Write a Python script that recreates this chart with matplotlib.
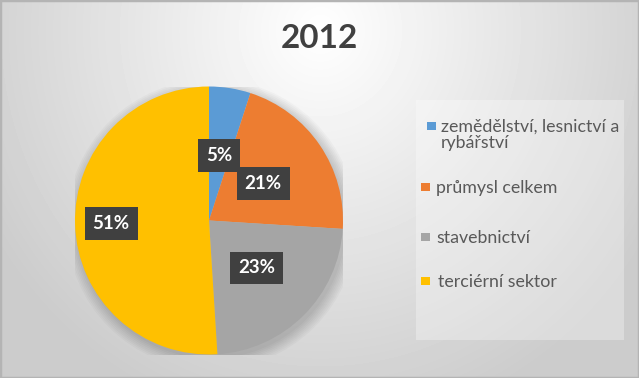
import numpy as np
import matplotlib
matplotlib.use('Agg')
import matplotlib.pyplot as plt
from matplotlib.patches import Rectangle, Circle

# data
categories = ['zemědělství, lesnictví a\nrybářství', 'průmysl celkem',
              'stavebnictví', 'terciérní sektor']
shares = [5, 21, 23, 51]
colours = ['#5B9BD5', '#ED7D31', '#A5A5A5', '#FFC000']
label_dist = [0.49, 0.49, 0.5, 0.73]
title = '2012'

plt.rcParams['font.family'] = ['Lato', 'DejaVu Sans']

W, H = 639, 378
fig = plt.figure(figsize=(W / 100, H / 100), dpi=100)


def fx(px):
    return px / W


def fy(py):
    return 1 - py / H


# radial grey background
bg = fig.add_axes([0, 0, 1, 1], zorder=0)
yy, xx = np.mgrid[0:H, 0:W]
r = np.sqrt(((xx - 320) / 380.0) ** 2 + ((yy - 30) / 400.0) ** 2)
shade = 1 - 0.2 * np.clip(r, 0, 1)
bg.imshow(shade, cmap='gray', vmin=0, vmax=1, aspect='auto')
bg.axis('off')
fig.patches.append(Rectangle((0, 0), 1, 1, transform=fig.transFigure,
                             fill=False, ec='#b4b4b4', lw=2.5, zorder=5))

# pie
cx, cy, rad = 209, 220.5, 134
ax = fig.add_axes([fx(cx - rad), fy(cy + rad), 2 * rad / W, 2 * rad / H],
                  zorder=2)
for k in range(8):
    ax.add_patch(Circle((0.02, -0.03), 1.0 + 0.012 * k, fc='black',
                        alpha=0.025, ec='none', zorder=0))
wedges, _ = ax.pie(shares, colors=colours, startangle=90, counterclock=False,
                   radius=1, wedgeprops=dict(lw=0))
for w, val, d in zip(wedges, shares, label_dist):
    ang = np.deg2rad((w.theta1 + w.theta2) / 2)
    ax.text(d * np.cos(ang), d * np.sin(ang), f'{val}%', ha='center',
            va='center', fontsize=13.5, weight='bold', color='white', zorder=4,
            bbox=dict(boxstyle='square,pad=0.42', fc='#404040', ec='none'))
ax.set_xlim(-1, 1)
ax.set_ylim(-1, 1)
ax.set_aspect('equal')
ax.axis('off')

# title
fig.text(0.5, fy(38.5), title, ha='center', va='center', fontsize=24,
         weight='bold', color='#404040', zorder=3)

# legend box and entries
fig.patches.append(Rectangle((fx(416), fy(340)), 208 / W, 240 / H,
                             transform=fig.transFigure, fc='white', alpha=0.3,
                             ec='none', zorder=1))
marker_x = [427, 421, 421, 421]
text_x = [441, 436, 436, 438]
baselines = [132, 193, 243, 287]
for cat, c, mx, tx, base in zip(categories, colours, marker_x, text_x,
                                 baselines):
    fig.patches.append(Rectangle((fx(mx), fy(base - 2)), 8.5 / W, 8.5 / H,
                                 transform=fig.transFigure, fc=c, ec='none',
                                 zorder=3))
    for i, line in enumerate(cat.split('\n')):
        fig.text(fx(tx), fy(base + 16 * i), line, ha='left', va='baseline',
                 fontsize=12.8, color='#595959', zorder=3)

fig.savefig('out.png', dpi=100)
